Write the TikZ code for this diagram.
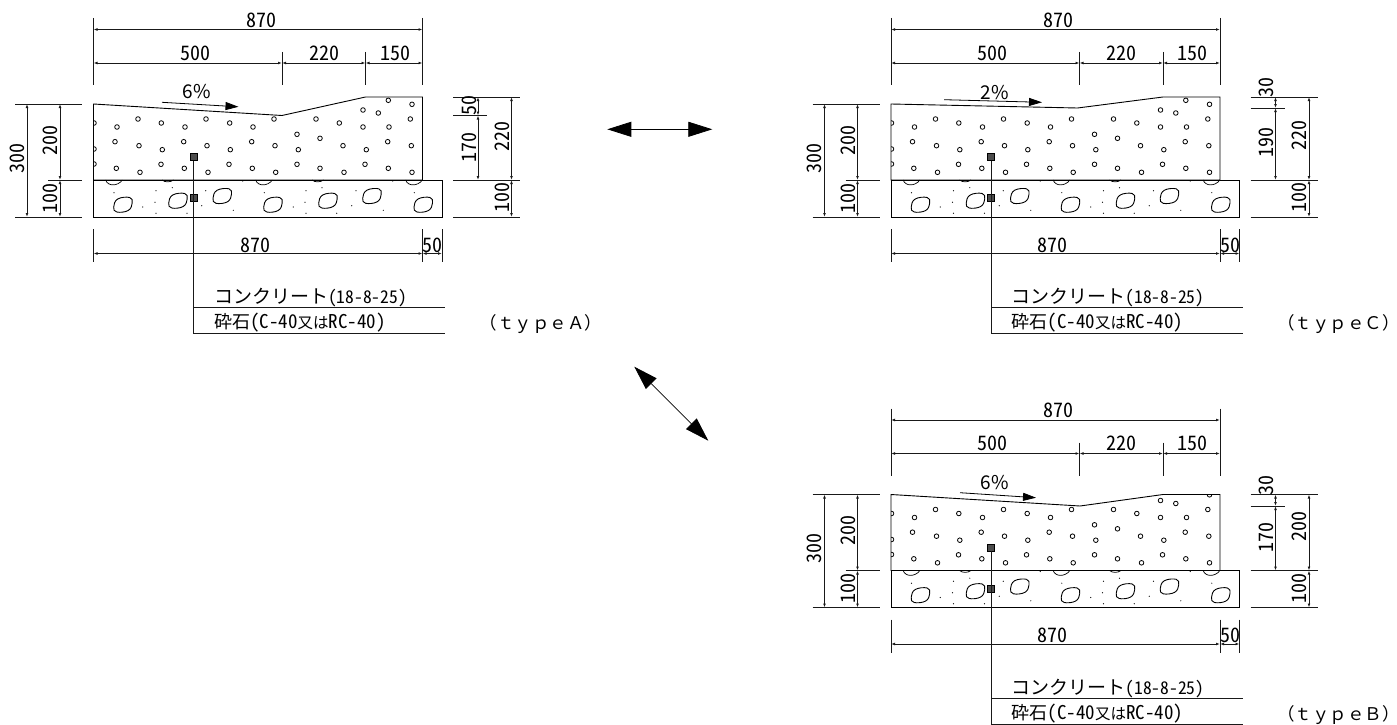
\documentclass[tikz,border=0pt]{standalone}
\usepackage{fontspec}
\setmainfont[RawFeature=+hwid]{Noto Sans CJK JP}
\newfontfamily\cjk{Noto Sans CJK JP}
\usetikzlibrary{arrows.meta}
\tikzset{
  outline/.style={line width=.9pt,black},
  extline/.style={line width=.8pt,black!90},
  dimline/.style={line width=.8pt,black!90,{Latex[length=4pt,width=2.8pt]}-{Latex[length=4pt,width=2.8pt]}},
  dimtext/.style={inner sep=0pt,font=\fontsize{20}{21}\selectfont},
  notetext/.style={inner sep=0pt,anchor=west},
  marker/.style={draw=black,fill=black!70,line width=.6pt,minimum size=7pt,inner sep=0pt},
  bigarrow/.style={line width=.8pt,{Triangle[length=24pt,width=15pt]}-{Triangle[length=24pt,width=15pt]}},
  slope/.style={line width=.8pt,-{Triangle[length=13pt,width=8pt]}}
}
\newcommand{\gravelpts}{94/123,117/127,138/119,161.3/123,185/127,206/119,229.7/123,253/127,274/119,
  94/149,115/141.7,139/145.7,162.3/149.7,183.7/141.7,207/145.7,230.3/149.7,251.7/141.7,275/145.7,
  94/164,116.3/168.3,140/172.3,161/164.3,184.3/168.3,208/172.3,229/164.3,252.3/168.3,275.7/172.3,
  316/119,339.3/123,363/127,363/110,378.3/113,388.3/100.3,412/104.3,410.3/119,389/127,
  297/134.3,320/138.3,343/145.7,298.3/149.7,366.3/149.7,387.7/141.7,411.3/145.7,
  297/164.3,320/168.3,344/172.3,365/164.3,388.3/168.3,412/172.3}
\newcommand{\stonepts}{122.7/205,177.7/201,222/196.3,272.7/205,327.7/201,371.7/196.3,423/205}
\newcommand{\speckpts}{114/192.7,142.7/207,156/190.7,155/202.3,156/213.3,172.3/187.7,187/213.3,201.7/205.7,205.7/190.7,233.3/210.3,242.7/181,
  264.3/192.7,293.3/207,306/190.7,305/202.3,306/213.3,322/187.7,336.7/213.3,351.7/205.7,356/190.7,383.3/210.3,392.7/181,414.3/192.7}
% one cross section, everything that all three types share
\newcommand{\roadsection}[3]{
  \begin{scope}
    \clip #2;
    \foreach \x/\y in \gravelpts
      \draw[line width=.8pt] (\x,\y) circle (2.3);
  \end{scope}
  \draw[outline] #2;
  \draw[outline] (93.5,180) rectangle (442,217);
  \foreach \x/\y in \stonepts
    \draw[outline,shift={(\x,\y)}] plot[smooth cycle,tension=.7] coordinates {(-9,2) (-5,-6) (7,-7.5) (9.5,-2) (5.5,5.5) (-6,7)};
  \foreach \x in {105.7,255.7,405.7}
    \draw[line width=.7pt] (\x,180) .. controls (\x+2,186.5) and (\x+12,186.5) .. (\x+16.7,180);
  \foreach \x in {162,312}
    \draw[line width=.7pt] (\x,180) .. controls (\x+3,182.5) and (\x+8,182.5) .. (\x+11.5,180);
  \foreach \x/\y in \speckpts
    \fill (\x,\y) circle (.6);
  % leader and its two notes
  \node[marker] (#1top) at (193.5,157) {};
  \node[marker] (#1bot) at (193.5,198) {};
  \coordinate (#1mid) at (193.5,307.5);
  \coordinate (#1end) at (193.5,333.5);
  \coordinate (#1midr) at (445,307.5);
  \coordinate (#1endr) at (445,333.5);
  \draw[extline] (#1top) -- (#1end) -- (#1endr);
  \draw[extline] (#1mid) -- (#1midr);
  \node[notetext,font=\fontsize{17.5}{18}\selectfont] (#1note1) at (214,298) {{\cjk\fontsize{19}{20}\selectfont コンクリート}(18-8-25)};
  \node[notetext,font=\fontsize{19}{20}\selectfont] (#1note2) at (214,323) {{\cjk\fontsize{18}{20}\selectfont 砕石}(C-40{\cjk\fontsize{15.5}{18}\selectfont 又は}RC-40)};
  \node[inner sep=0pt,font=\cjk\fontsize{17.5}{20}\selectfont] (#1type) at (541,324.5) {（ｔｙｐｅ#3）};
  % top dimensions
  \draw[extline] (93.5,18) -- (93.5,85);
  \draw[extline] (422.5,18) -- (422.5,85);
  \draw[extline] (282,52) -- (282,85);
  \draw[extline] (365.5,52) -- (365.5,85);
  \draw[dimline] (93.5,29.5) -- (422.5,29.5);
  \draw[dimline] (93.5,63) -- (282,63);
  \draw[dimline] (282,63) -- (365.5,63);
  \draw[dimline] (365.5,63) -- (422.5,63);
  \node[dimtext] (#1w) at (261,20) {870};
  \node[dimtext] (#1wa) at (195,53) {500};
  \node[dimtext] (#1wb) at (324,53) {220};
  \node[dimtext] (#1wc) at (395,53) {150};
  % left dimensions
  \draw[extline] (15,104) -- (82,104);
  \draw[extline] (48,180) -- (82,180);
  \draw[extline] (15,217) -- (82,217);
  \draw[dimline] (27,104) -- (27,217);
  \draw[dimline] (60,104) -- (60,180);
  \draw[dimline] (60,180) -- (60,217);
  \node[dimtext,rotate=90] (#1ha) at (17,158) {300};
  \node[dimtext,rotate=90] (#1hb) at (50.5,140) {200};
  \node[dimtext,rotate=90] (#1hc) at (50.5,198) {100};
  % bottom dimensions
  \draw[extline] (93.5,229) -- (93.5,262);
  \draw[extline] (422.5,229) -- (422.5,262);
  \draw[extline] (442,229) -- (442,262);
  \draw[dimline] (93.5,253.5) -- (422.5,253.5);
  \draw[dimline] (422.5,253.5) -- (442,253.5);
  \node[dimtext] (#1ba) at (255,245) {870};
  \node[dimtext] (#1bb) at (432.5,245) {50};
  % right dimensions, lower part
  \draw[extline] (453,180) -- (520,180);
  \draw[extline] (453,217) -- (520,217);
  \draw[dimline] (511.5,180) -- (511.5,217);
  \node[dimtext,rotate=90] (#1rc) at (502,197.5) {100};
}
\newcommand{\rightdims}[9]{
  \draw[extline] (453,#2) -- (520,#2);
  \draw[extline] (453,#3) -- (487,#3);
  \draw[dimline] (478,#2) -- (478,#3);
  \draw[dimline] (478,#3) -- (478,180);
  \draw[dimline] (511.5,#2) -- (511.5,180);
  \node[dimtext,rotate=90] (#1ra) at (469,#5) {#4};
  \node[dimtext,rotate=90] (#1rb) at (469,#7) {#6};
  \node[dimtext,rotate=90] (#1rd) at (502,#9) {#8};
}

\begin{document}
\begin{tikzpicture}[x=1pt,y=-1pt]
  \useasboundingbox (0,0) rectangle (1397,725);
  %type A
  \roadsection{a}{(93.5,104) -- (282,115.5) -- (365.5,97) -- (422.5,97) -- (422.5,180) -- (93.5,180) -- cycle}{Ａ}
  \rightdims{a}{97}{115.5}{50}{105}{170}{147}{220}{136.5}
  \coordinate (aslopea) at (162,102.3);
  \coordinate (aslopeb) at (238.5,106.8);
  \draw[slope] (aslopea) -- (aslopeb);
  \node[dimtext,font=\cjk\fontsize{19}{20}\selectfont] (aslopet) at (197,92) {6\%};
  %type C
  \begin{scope}[shift={(797.5,0)}]
    \roadsection{c}{(93.5,104) -- (280,108) -- (365.5,97) -- (422.5,97) -- (422.5,180) -- (93.5,180) -- cycle}{Ｃ}
    \rightdims{c}{97}{108}{30}{87}{190}{142}{220}{135}
    \coordinate (cslopea) at (146.5,99.7);
    \coordinate (cslopeb) at (244.5,102.3);
    \draw[slope] (cslopea) -- (cslopeb);
    \node[dimtext,font=\cjk\fontsize{19}{20}\selectfont] (cslopet) at (197.5,93) {2\%};
  \end{scope}
  %type B
  \begin{scope}[shift={(797.5,390.5)}]
    \roadsection{b}{(93.5,104) -- (282.5,115.5) -- (365.5,104) -- (422.5,104) -- (422.5,180) -- (93.5,180) -- cycle}{Ｂ}
    \rightdims{b}{104}{115.5}{30}{95}{170}{147}{200}{136}
    \coordinate (bslopea) at (162.5,102.2);
    \coordinate (bslopeb) at (238.5,107.2);
    \draw[slope] (bslopea) -- (bslopeb);
    \node[dimtext,font=\cjk\fontsize{19}{20}\selectfont] (bslopet) at (197.5,92.5) {6\%};
  \end{scope}
  %arrows between the types
  \coordinate (acleft) at (607.3,129.3);
  \coordinate (acright) at (712.3,129.3);
  \coordinate (abtop) at (634.3,366.7);
  \coordinate (abbot) at (708.3,440.7);
  \draw[bigarrow] (acleft) -- (acright);
  \draw[bigarrow] (abtop) -- (abbot);
\end{tikzpicture}
\end{document}
